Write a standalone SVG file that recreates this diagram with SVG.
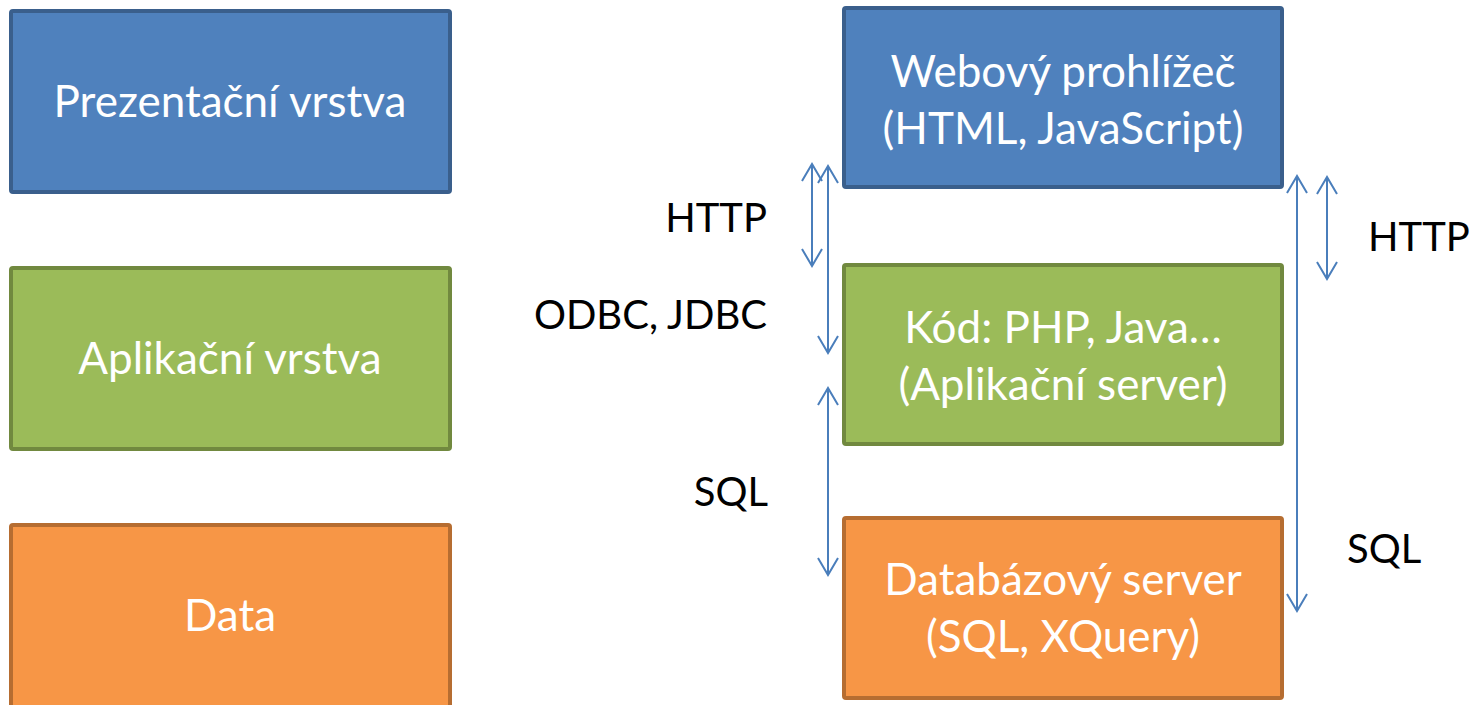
<svg xmlns="http://www.w3.org/2000/svg" width="1480" height="705" viewBox="0 0 1480 705">
<style>
.box{stroke-width:4}
.blue{fill:#4F81BD;stroke:#3A5F8C}
.green{fill:#9BBB59;stroke:#71893F}
.orange{fill:#F79646;stroke:#B66D31}
.t{font-family:Lato,"Open Sans","Noto Sans",sans-serif;font-size:44px;fill:#FFFFFF;text-anchor:middle}
.lbl{font-family:Lato,"Open Sans","Noto Sans",sans-serif;font-size:40px;fill:#000000}
.c{stroke:#4A7EBB;stroke-width:2;fill:none}
</style>
<defs>
<marker id="ah" viewBox="-19 -11 21 22" refX="0" refY="0" markerWidth="21" markerHeight="22" markerUnits="userSpaceOnUse" orient="auto-start-reverse" overflow="visible">
<path d="M-17,-10 L0,0 L-17,10" fill="none" stroke="#4A7EBB" stroke-width="2"/>
</marker>
</defs>
<g id="presentation">
<rect class="box blue" x="11" y="11" width="439" height="181" rx="2"/>
<text class="t" x="230" y="117">Prezentační vrstva</text>
</g>
<g id="application">
<rect class="box green" x="11" y="268" width="439" height="181" rx="2"/>
<text class="t" x="230" y="374">Aplikační vrstva</text>
</g>
<g id="data">
<rect class="box orange" x="11" y="525" width="439" height="185" rx="2"/>
<text class="t" x="230" y="631">Data</text>
</g>
<g id="browser">
<rect class="box blue" x="844" y="8" width="438" height="179" rx="2"/>
<text class="t" x="1063" y="87">Webový prohlížeč</text>
<text class="t" x="1063" y="144">(HTML, JavaScript)</text>
</g>
<g id="appserver">
<rect class="box green" x="844" y="265" width="438" height="179" rx="2"/>
<text class="t" x="1063" y="343">Kód: PHP, Java…</text>
<text class="t" x="1063" y="400">(Aplikační server)</text>
</g>
<g id="dbserver">
<rect class="box orange" x="844" y="518" width="438" height="180" rx="2"/>
<text class="t" x="1063" y="595">Databázový server</text>
<text class="t" x="1063" y="652">(SQL, XQuery)</text>
</g>
<g id="connectors">
<line class="c" x1="812" y1="164" x2="812" y2="266" marker-start="url(#ah)" marker-end="url(#ah)"/>
<line class="c" x1="828" y1="166" x2="828" y2="353" marker-start="url(#ah)" marker-end="url(#ah)"/>
<line class="c" x1="828" y1="388" x2="828" y2="575" marker-start="url(#ah)" marker-end="url(#ah)"/>
<line class="c" x1="1297" y1="176" x2="1297" y2="611" marker-start="url(#ah)" marker-end="url(#ah)"/>
<line class="c" x1="1327" y1="177" x2="1327" y2="279" marker-start="url(#ah)" marker-end="url(#ah)"/>
</g>
<g id="labels">
<text class="lbl" x="767" y="232" text-anchor="end">HTTP</text>
<text class="lbl" x="767" y="329" text-anchor="end">ODBC, JDBC</text>
<text class="lbl" x="768" y="506" text-anchor="end">SQL</text>
<text class="lbl" x="1368" y="251">HTTP</text>
<text class="lbl" x="1347" y="563">SQL</text>
</g>
</svg>
